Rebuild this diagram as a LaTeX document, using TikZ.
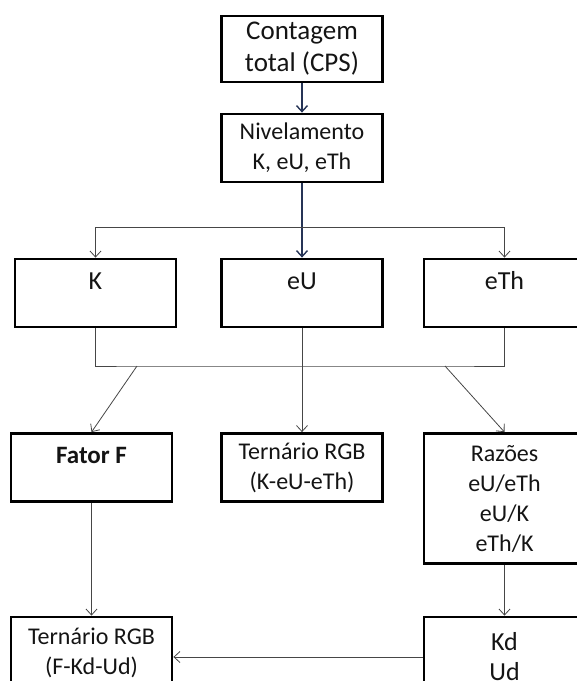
\documentclass[tikz,border=0pt]{standalone}
\usepackage{fontspec}
\setmainfont{Carlito}
\usetikzlibrary{arrows.meta}

\definecolor{navy}{RGB}{38,52,86}
\definecolor{linegray}{RGB}{70,70,70}

\tikzset{
  box/.style={draw, rectangle, line width=2.8pt, minimum width=161pt, inner sep=0pt,
    align=center, text=black!92, font=\fontsize{24}{30}\selectfont},
  bigbox/.style={box, font=\fontsize{26}{30}\selectfont},
  toptext/.style={text height=17pt, text depth=25pt},
  link/.style={draw=linegray, line width=0.8pt},
  mainlink/.style={draw=navy, line width=1.4pt}
}

\begin{document}
\begin{tikzpicture}[x=1pt, y=-1pt, >={Straight Barb[length=6pt,width=11pt]}]
%\draw [help lines, step=50] (0,0) grid (577,681);
\clip (0,0) rectangle (577,681);

\node [bigbox, minimum height=66pt, font=\fontsize{27}{32}\selectfont] (cps) at (302,49) {Contagem\\total (CPS)};
\node [box, minimum height=68pt] (niv) at (302,148) {Nivelamento\\K, eU, eTh};

\node [bigbox, toptext, minimum height=68pt] (k) at (95.5,293) {K};
\node [bigbox, toptext, minimum height=68pt] (eu) at (302,293) {eU};
\node [bigbox, toptext, minimum height=68pt] (eth) at (504.5,293) {eTh};

\node [bigbox, toptext, minimum height=68pt, font=\fontsize{25}{30}\selectfont\bfseries] (fator) at (91.5,467.5) {Fator F};
\node [box, minimum height=68pt] (rgbk) at (302,467.5) {Ternário RGB\\(K-eU-eTh)};
\node [box, minimum height=130pt] (raz) at (504.5,498.5) {Razões\\eU/eTh\\eU/K\\eTh/K};

\node [box, minimum height=72pt] (rgbf) at (91.5,653) {Ternário RGB\\(F-Kd-Ud)};
\node [bigbox, minimum height=80pt] (kd) at (504.5,657) {Kd\\Ud};

\coordinate (split) at (302,227);
\coordinate (busl) at (137,366);
\coordinate (busr) at (445,366);

\draw [mainlink, ->] (cps) -- (niv);
\draw [mainlink, ->] (niv) -- (eu);
\draw [link, ->] (split) -| (k);
\draw [link, ->] (split) -| (eth);

\draw [link] (k.south) |- (busl) -- (busr) -| (eth.south);
\draw [link, ->] (busl) -- (fator.north);
\draw [link, ->] (busr) -- (raz.north);
\draw [link, ->] (eu) -- (rgbk);

\draw [link, ->] (fator) -- (rgbf);
\draw [link, ->] (raz) -- (kd);
\draw [link, ->] (kd.west) -- (kd.west -| rgbf.east);

\end{tikzpicture}
\end{document}
